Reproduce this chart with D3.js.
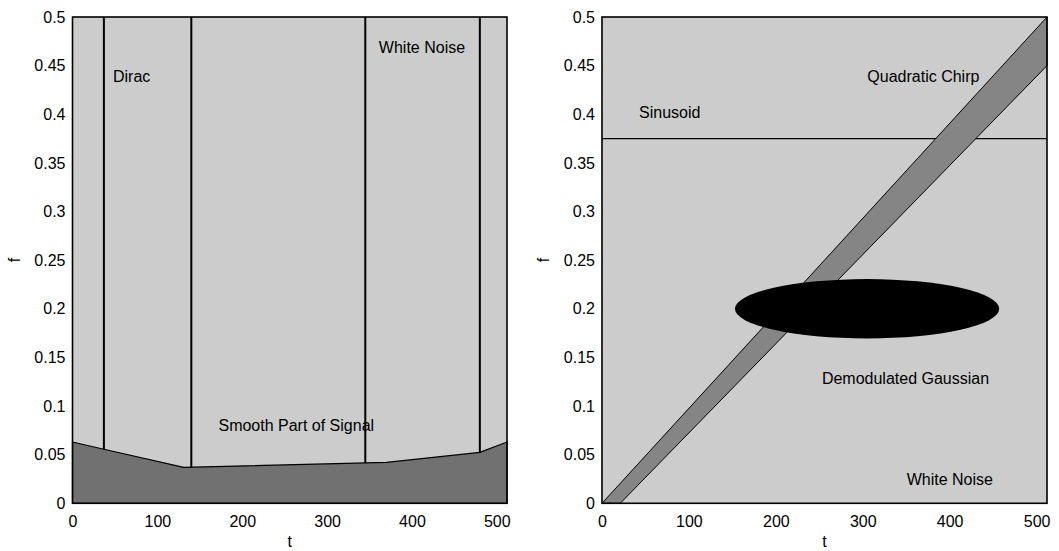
<!DOCTYPE html>
<html>
<head>
<meta charset="utf-8">
<script src="https://cdn.jsdelivr.net/npm/d3@7"></script>
<style>
  body { margin: 0; background: #fff; }
  text { font-family: "Liberation Sans", Arial, sans-serif; fill: #000; }
</style>
</head>
<body>
<div id="chart"></div>
<script>
// ---- data ----
const tDomain = [0, 512];
const fDomain = [0, 0.5];
const xTicks = [0, 100, 200, 300, 400, 500];
const yTicks = [0, 0.05, 0.1, 0.15, 0.2, 0.25, 0.3, 0.35, 0.4, 0.45, 0.5];

// left panel
const diracT = [37, 140, 345, 480];
const smoothT = [0, 37, 131, 370, 480, 512];
const smoothF = [0.063, 0.0556, 0.037, 0.042, 0.0523, 0.063];
const leftLabels = ["Dirac", "White Noise", "Smooth Part of Signal"];
const leftLabelT = [47.7, 361, 172];
const leftLabelF = [0.433, 0.463, 0.0743];

// right panel
const sinusoidF = 0.375;
const chirpT = [0, 512, 512, 21];
const chirpF = [0, 0.5, 0.45, 0];
const gaussT = 305, gaussF = 0.2, gaussHalfT = 152, gaussHalfF = 0.0305;
const rightLabels = ["Sinusoid", "Quadratic Chirp", "Demodulated Gaussian", "White Noise"];
const rightLabelT = [42.6, 305.3, 253, 350.6];
const rightLabelF = [0.396, 0.4335, 0.1227, 0.0188];

// ---- layout ----
const W = 1059, H = 551;
const svg = d3.select("#chart").append("svg")
  .attr("width", W).attr("height", H);

function panel(x0, x1) {
  const x = d3.scaleLinear().domain(tDomain).range([x0, x1]);
  const y = d3.scaleLinear().domain(fDomain).range([503.3, 17]);
  const g = svg.append("g");

  g.append("rect")
    .attr("x", x0).attr("y", y(0.5))
    .attr("width", x1 - x0).attr("height", y(0) - y(0.5))
    .attr("fill", "#cccccc");

  // axes
  g.append("g")
    .attr("transform", `translate(0,${y(0)})`)
    .call(d3.axisBottom(x).tickValues(xTicks).tickSize(0).tickPadding(12).tickFormat(d3.format("d")))
    .call(a => a.select(".domain").remove())
    .selectAll("text").attr("font-size", 16).attr("font-family", "Liberation Sans, Arial, sans-serif");

  g.append("g")
    .attr("transform", `translate(${x0},0)`)
    .call(d3.axisLeft(y).tickValues(yTicks).tickSize(0).tickPadding(7).tickFormat(d => String(+d.toFixed(2))))
    .call(a => a.select(".domain").remove())
    .selectAll("text").attr("font-size", 16).attr("font-family", "Liberation Sans, Arial, sans-serif");

  g.append("text")
    .attr("x", (x0 + x1) / 2).attr("y", 547)
    .attr("text-anchor", "middle").attr("font-size", 16)
    .text("t");

  g.append("text")
    .attr("transform", `translate(${x0 - 53},260) rotate(-90)`)
    .attr("text-anchor", "middle").attr("font-size", 16)
    .text("f");

  return { g, x, y, x0, x1 };
}

function frame(p) {
  p.g.append("rect")
    .attr("x", p.x0).attr("y", p.y(0.5))
    .attr("width", p.x1 - p.x0).attr("height", p.y(0) - p.y(0.5))
    .attr("fill", "none").attr("stroke", "#000").attr("stroke-width", 1.6);
}

// ---- left panel ----
const L = panel(72.5, 507);
const smoothAt = d3.scaleLinear().domain(smoothT).range(smoothF);

const area = d3.area()
  .x((d, i) => L.x(smoothT[i]))
  .y0(L.y(0))
  .y1((d, i) => L.y(d));
L.g.append("path")
  .datum(smoothF)
  .attr("d", area)
  .attr("fill", "#717171")
  .attr("stroke", "#000").attr("stroke-width", 1.2);

L.g.selectAll("line.dirac")
  .data(diracT)
  .join("line")
  .attr("class", "dirac")
  .attr("x1", d => L.x(d)).attr("x2", d => L.x(d))
  .attr("y1", d => L.y(smoothAt(d))).attr("y2", L.y(0.5))
  .attr("stroke", "#000").attr("stroke-width", 2);

L.g.selectAll("text.lbl")
  .data(leftLabels)
  .join("text")
  .attr("class", "lbl")
  .attr("x", (d, i) => L.x(leftLabelT[i]))
  .attr("y", (d, i) => L.y(leftLabelF[i]))
  .attr("font-size", 16)
  .text(d => d);
frame(L);

// ---- right panel ----
const R = panel(602, 1047);

R.g.append("line")
  .attr("x1", R.x(0)).attr("x2", R.x(512))
  .attr("y1", R.y(sinusoidF)).attr("y2", R.y(sinusoidF))
  .attr("stroke", "#000").attr("stroke-width", 1.2);

R.g.append("path")
  .datum(chirpT.map((t, i) => [t, chirpF[i]]))
  .attr("d", d3.line().x(d => R.x(d[0])).y(d => R.y(d[1])).curve(d3.curveLinearClosed))
  .attr("fill", "#858585")
  .attr("stroke", "#000").attr("stroke-width", 1);

R.g.append("ellipse")
  .attr("cx", R.x(gaussT)).attr("cy", R.y(gaussF))
  .attr("rx", R.x(gaussHalfT) - R.x(0))
  .attr("ry", R.y(0) - R.y(gaussHalfF))
  .attr("fill", "#000");

R.g.selectAll("text.lbl")
  .data(rightLabels)
  .join("text")
  .attr("class", "lbl")
  .attr("x", (d, i) => R.x(rightLabelT[i]))
  .attr("y", (d, i) => R.y(rightLabelF[i]))
  .attr("font-size", 16)
  .text(d => d);
frame(R);
</script>
</body>
</html>
